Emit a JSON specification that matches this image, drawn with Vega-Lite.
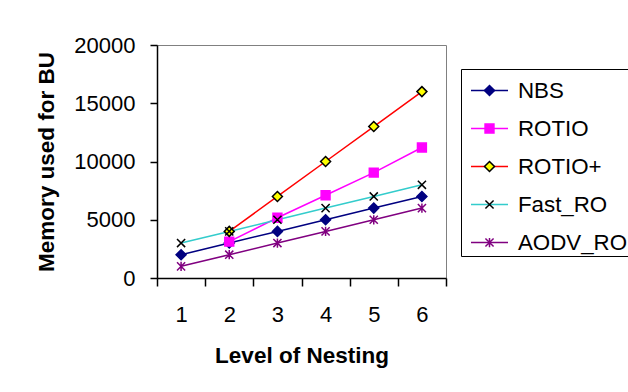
{
  "$schema": "https://vega.github.io/schema/vega-lite/v6.json",
  "width": 289,
  "height": 233,
  "autosize": {"type": "none"},
  "padding": {"left": 157, "top": 45, "right": 182, "bottom": 114},
  "background": "white",
  "config": {
    "font": "Liberation Sans",
    "view": {"stroke": "#808080", "strokeWidth": 1},
    "axis": {"domainColor": "black", "domainWidth": 1.5, "tickColor": "black", "tickWidth": 1.5, "labelColor": "black", "titleColor": "black", "labelFont": "Liberation Sans", "titleFont": "Liberation Sans", "grid": false}
  },
  "data": {"values": [
    {"series": "NBS", "level": 1, "memory": 2000},
    {"series": "NBS", "level": 2, "memory": 3000},
    {"series": "NBS", "level": 3, "memory": 4000},
    {"series": "NBS", "level": 4, "memory": 5000},
    {"series": "NBS", "level": 5, "memory": 6000},
    {"series": "NBS", "level": 6, "memory": 7000},
    {"series": "ROTIO", "level": 2, "memory": 3120},
    {"series": "ROTIO", "level": 3, "memory": 5170},
    {"series": "ROTIO", "level": 4, "memory": 7100},
    {"series": "ROTIO", "level": 5, "memory": 9050},
    {"series": "ROTIO", "level": 6, "memory": 11200},
    {"series": "ROTIO+", "level": 2, "memory": 4000},
    {"series": "ROTIO+", "level": 3, "memory": 7000},
    {"series": "ROTIO+", "level": 4, "memory": 10000},
    {"series": "ROTIO+", "level": 5, "memory": 13000},
    {"series": "ROTIO+", "level": 6, "memory": 16000},
    {"series": "Fast_RO", "level": 1, "memory": 3000},
    {"series": "Fast_RO", "level": 2, "memory": 4000},
    {"series": "Fast_RO", "level": 3, "memory": 5000},
    {"series": "Fast_RO", "level": 4, "memory": 6000},
    {"series": "Fast_RO", "level": 5, "memory": 7000},
    {"series": "Fast_RO", "level": 6, "memory": 8000},
    {"series": "AODV_RO", "level": 1, "memory": 1000},
    {"series": "AODV_RO", "level": 2, "memory": 2000},
    {"series": "AODV_RO", "level": 3, "memory": 3000},
    {"series": "AODV_RO", "level": 4, "memory": 4000},
    {"series": "AODV_RO", "level": 5, "memory": 5000},
    {"series": "AODV_RO", "level": 6, "memory": 6000}
  ]},
  "layer": [
    {
      "mark": {"type": "line", "strokeWidth": 1.5},
      "encoding": {
        "x": {"field": "level", "type": "ordinal", "scale": {"type": "band", "paddingInner": 0, "paddingOuter": 0},
          "axis": {"title": "Level of Nesting", "labelAngle": 0, "labelFontSize": 22, "labelPadding": 18, "tickSize": 8, "tickBand": "extent", "titleFontSize": 22.5, "titleFontWeight": "bold", "titlePadding": 19}},
        "y": {"field": "memory", "type": "quantitative", "scale": {"domain": [0, 20000], "nice": false},
          "axis": {"title": "Memory used for BU", "values": [0, 5000, 10000, 15000, 20000], "format": "d", "labelFontSize": 22, "labelPadding": 15, "tickSize": 7, "titleFontSize": 22.5, "titleFontWeight": "bold", "titlePadding": 15}},
        "color": {"field": "series", "type": "nominal", "sort": ["NBS", "ROTIO", "ROTIO+", "Fast_RO", "AODV_RO"],
          "scale": {"range": ["#000080", "#ff00ff", "#ff0000", "#33cccc", "#800080"]},
          "legend": {"orient": "none", "legendX": 304, "legendY": 24, "title": null, "symbolType": "stroke", "symbolSize": 1369, "symbolStrokeWidth": 1.5, "labelFontSize": 22.3, "labelFont": "Liberation Sans", "labelColor": "black", "labelOffset": 9, "symbolOffset": 7, "padding": 2, "rowPadding": 7, "strokeColor": "black"}}
      }
    },
    {
      "mark": {"type": "point", "size": 1369, "opacity": 1, "strokeWidth": 1.5},
      "encoding": {
        "x": {"field": "level", "type": "ordinal"},
        "y": {"field": "memory", "type": "quantitative"},
        "shape": {"field": "series", "type": "nominal",
          "scale": {"domain": ["NBS", "ROTIO", "ROTIO+", "Fast_RO", "AODV_RO"],
            "range": ["M0,-0.27L0.27,0L0,0.27L-0.27,0Z", "M-0.24,-0.24H0.24V0.24H-0.24Z", "M0,-0.27L0.27,0L0,0.27L-0.27,0Z", "M-0.22,-0.22L0.22,0.22M-0.22,0.22L0.22,-0.22", "M-0.22,-0.22L0.22,0.22M-0.22,0.22L0.22,-0.22M0,-0.25V0.25"]},
          "legend": {"orient": "none", "legendX": 304, "legendY": 24, "title": null, "symbolSize": 1369, "symbolStrokeWidth": 1.5, "labelFontSize": 22.3, "labelFont": "Liberation Sans", "labelColor": "transparent", "labelOffset": 9, "symbolOffset": 7, "padding": 2, "rowPadding": 7}},
        "fill": {"field": "series", "type": "nominal",
          "scale": {"domain": ["NBS", "ROTIO", "ROTIO+", "Fast_RO", "AODV_RO"], "range": ["#000080", "#ff00ff", "#ffff00", "transparent", "transparent"]}},
        "stroke": {"field": "series", "type": "nominal",
          "scale": {"domain": ["NBS", "ROTIO", "ROTIO+", "Fast_RO", "AODV_RO"], "range": ["#000080", "#ff00ff", "#000000", "#000000", "#800080"]}}
      }
    }
  ]
}
